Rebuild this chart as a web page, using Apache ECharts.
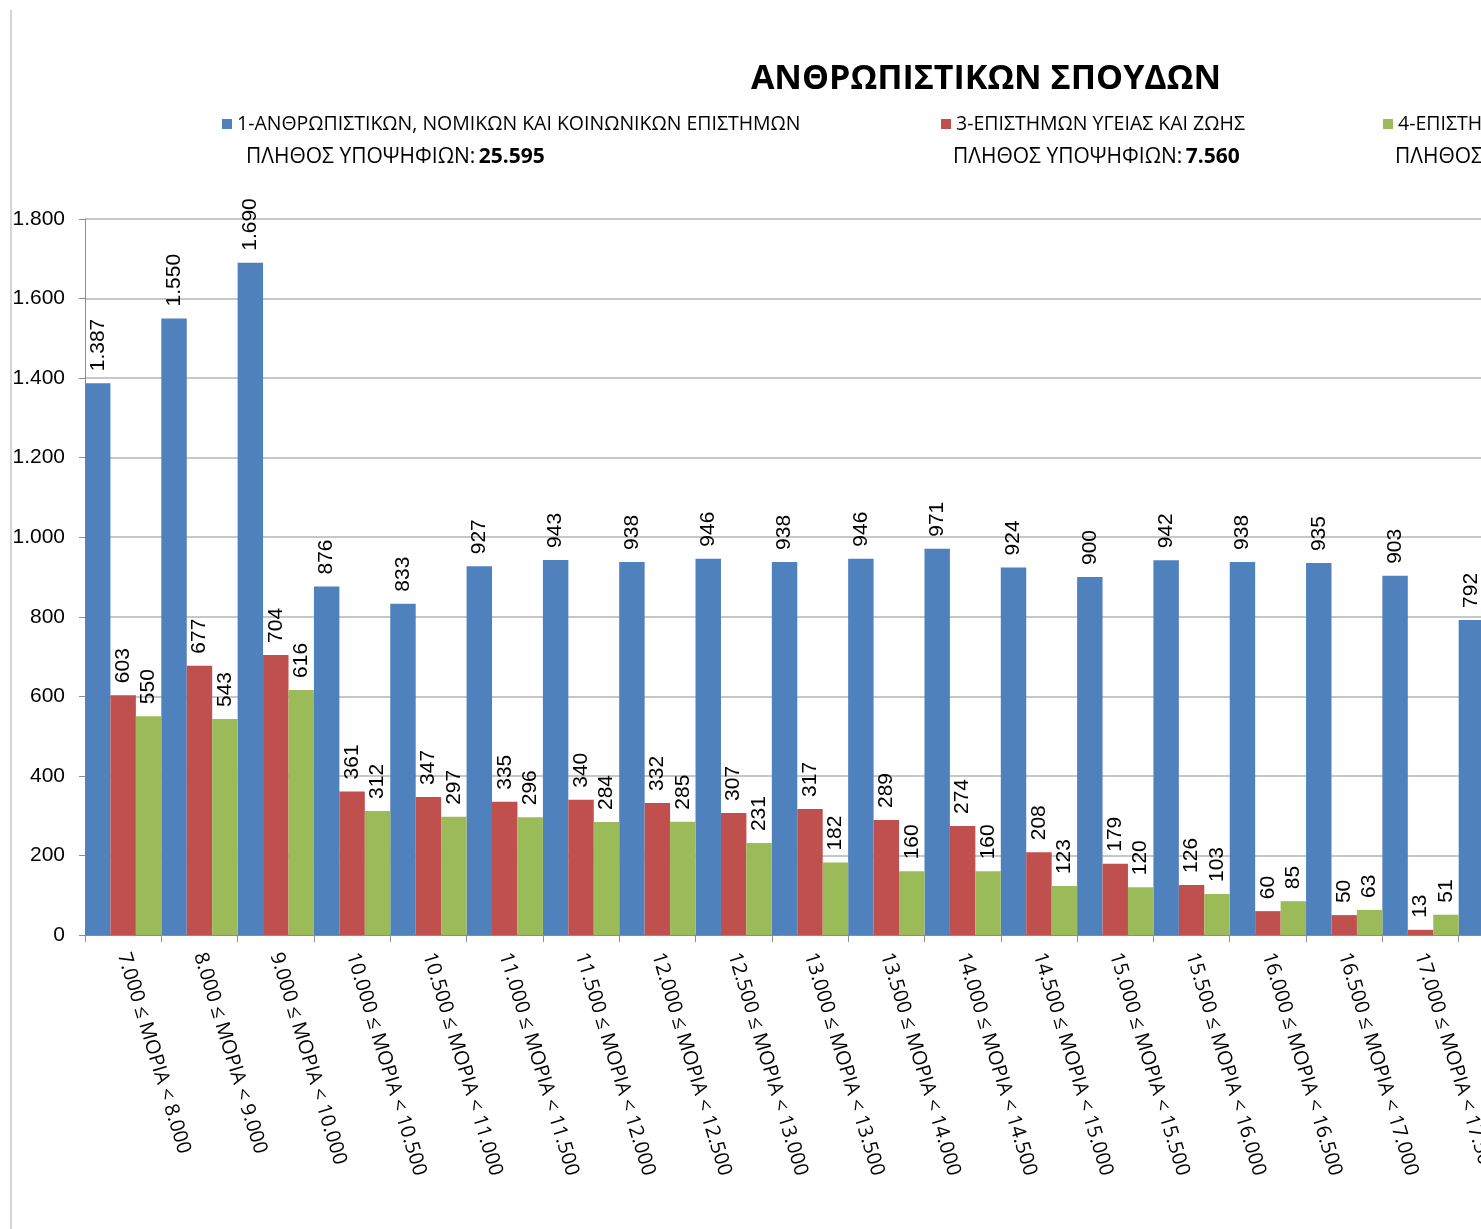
<!DOCTYPE html>
<html>
<head>
<meta charset="utf-8">
<script src="https://cdn.jsdelivr.net/npm/echarts@6/dist/echarts.min.js"></script>
<style>
  html, body { margin: 0; padding: 0; background: #fff; }
  #main { width: 1481px; height: 1229px; }
</style>
</head>
<body>
<div id="main"></div>
<script>
// κατηγορίες μορίων
const categories = [
    '7.000 ≤ ΜΟΡΙΑ < 8.000', '8.000 ≤ ΜΟΡΙΑ < 9.000', '9.000 ≤ ΜΟΡΙΑ < 10.000',
    '10.000 ≤ ΜΟΡΙΑ < 10.500', '10.500 ≤ ΜΟΡΙΑ < 11.000', '11.000 ≤ ΜΟΡΙΑ < 11.500',
    '11.500 ≤ ΜΟΡΙΑ < 12.000', '12.000 ≤ ΜΟΡΙΑ < 12.500', '12.500 ≤ ΜΟΡΙΑ < 13.000',
    '13.000 ≤ ΜΟΡΙΑ < 13.500', '13.500 ≤ ΜΟΡΙΑ < 14.000', '14.000 ≤ ΜΟΡΙΑ < 14.500',
    '14.500 ≤ ΜΟΡΙΑ < 15.000', '15.000 ≤ ΜΟΡΙΑ < 15.500', '15.500 ≤ ΜΟΡΙΑ < 16.000',
    '16.000 ≤ ΜΟΡΙΑ < 16.500', '16.500 ≤ ΜΟΡΙΑ < 17.000', '17.000 ≤ ΜΟΡΙΑ < 17.500',
    '17.500 ≤ ΜΟΡΙΑ < 18.000'
];

// ονόματα πεδίων
const seriesNames = [
    '1-ΑΝΘΡΩΠΙΣΤΙΚΩΝ, ΝΟΜΙΚΩΝ ΚΑΙ ΚΟΙΝΩΝΙΚΩΝ ΕΠΙΣΤΗΜΩΝ',
    '3-ΕΠΙΣΤΗΜΩΝ ΥΓΕΙΑΣ ΚΑΙ ΖΩΗΣ',
    '4-ΕΠΙΣΤΗΜΩΝ ΟΙΚΟΝΟΜΙΑΣ ΚΑΙ ΠΛΗΡΟΦΟΡΙΚΗΣ'
];

// πλήθος υποψηφίων ανά πεδίο (το τρίτο δεν φαίνεται)
const candidates = [25595, 7560, null];

// τιμές ανά πεδίο
const field1 = [1387, 1550, 1690, 876, 833, 927, 943, 938, 946, 938, 946, 971, 924, 900, 942, 938, 935, 903, 792];
const field3 = [603, 677, 704, 361, 347, 335, 340, 332, 307, 317, 289, 274, 208, 179, 126, 60, 50, 13, null];
const field4 = [550, 543, 616, 312, 297, 296, 284, 285, 231, 182, 160, 160, 123, 120, 103, 85, 63, 51, null];

// άξονας y
const yMin = 0, yMax = 1800, yStep = 200;

const colors = ['#4F81BD', '#C0504D', '#9BBB59'];

// μορφή αριθμού με τελεία για χιλιάδες
function fmt(v) {
    return String(v).replace(/\B(?=(\d{3})+(?!\d))/g, '.');
}

let chart = echarts.init(document.getElementById('main'));

const legendX = [222, 941, 1383];
const countX = [246, 953, 1395];

let barLabel = {
    show: true,
    position: 'top',
    rotate: 90,
    align: 'left',
    verticalAlign: 'middle',
    distance: 12,
    color: '#000',
    fontFamily: 'Liberation Sans',
    fontSize: 21,
    formatter: function (p) { return fmt(p.value); }
};

chart.setOption({
    animation: false,
    color: colors,
    title: {
        text: 'ΑΝΘΡΩΠΙΣΤΙΚΩΝ ΣΠΟΥΔΩΝ',
        left: 981,
        top: 57,
        textAlign: 'center',
        textStyle: {
            fontFamily: 'Open Sans',
            fontWeight: 'bold',
            fontSize: 34,
            color: '#000'
        }
    },
    legend: seriesNames.map(function (name, i) {
        return {
            data: [name],
            left: legendX[i],
            top: 114,
            padding: 0,
            icon: 'rect',
            itemWidth: 10,
            itemHeight: 10,
            selectedMode: false,
            textStyle: {
                fontFamily: 'Open Sans',
                fontSize: 19.5,
                color: '#000'
            }
        };
    }),
    graphic: [
        {
            type: 'line',
            shape: { x1: 11, y1: 10, x2: 11, y2: 1229 },
            style: { stroke: '#d6d6d6', lineWidth: 2 }
        }
    ].concat(candidates.map(function (c, i) {
        return {
            type: 'text',
            left: countX[i],
            top: 147,
            style: {
                text: '{n|ΠΛΗΘΟΣ ΥΠΟΨΗΦΙΩΝ:}' + (c === null ? '' : ' {b|' + fmt(c) + '}'),
                rich: {
                    n: { fontFamily: 'Open Sans', fontSize: 21, fill: '#000' },
                    b: { fontFamily: 'Open Sans', fontSize: 21, fontWeight: 'bold', fill: '#000' }
                }
            }
        };
    })),
    grid: {
        left: 85,
        top: 219,
        bottom: 294,
        width: 1450,
        outerBoundsMode: 'none',
        containLabel: false
    },
    xAxis: {
        type: 'category',
        data: categories,
        axisLine: { lineStyle: { color: '#8c8c8c', width: 1 } },
        axisTick: { show: true, interval: 0, length: 7, lineStyle: { color: '#8c8c8c' } },
        axisLabel: {
            interval: 0,
            rotate: -73,
            margin: 18,
            color: '#000',
            fontFamily: 'Open Sans',
            fontSize: 20
        }
    },
    yAxis: {
        type: 'value',
        min: yMin,
        max: yMax,
        interval: yStep,
        axisLine: { show: true, lineStyle: { color: '#8c8c8c' } },
        axisTick: { show: true, length: 6, lineStyle: { color: '#8c8c8c' } },
        splitLine: { lineStyle: { color: '#b4b4b4', width: 1.5 } },
        axisLabel: {
            margin: 20,
            color: '#000',
            fontFamily: 'Liberation Sans',
            fontSize: 21,
            formatter: function (v) { return fmt(v); }
        }
    },
    series: [field1, field3, field4].map(function (d, i) {
        return {
            name: seriesNames[i],
            type: 'bar',
            data: d,
            barGap: '0%',
            barCategoryGap: '0%',
            label: barLabel
        };
    })
});
</script>
</body>
</html>
